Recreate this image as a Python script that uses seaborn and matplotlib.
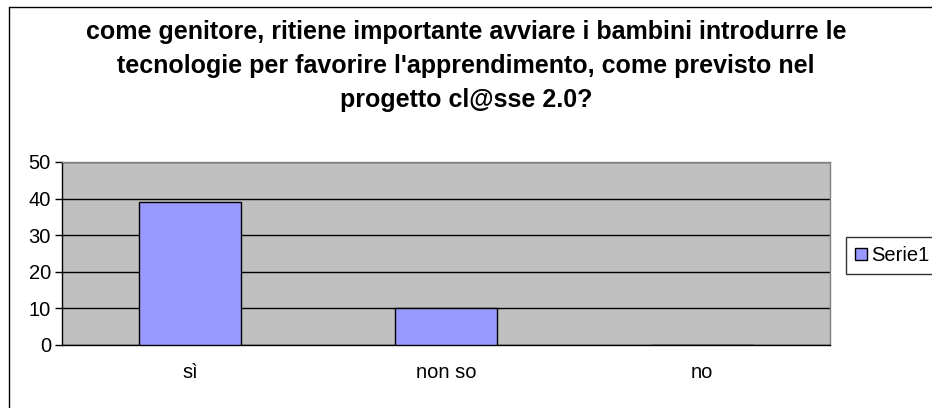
import matplotlib
matplotlib.use("Agg")
import matplotlib.pyplot as plt
import seaborn as sns
import pandas as pd
from matplotlib.lines import Line2D
from matplotlib.patches import Patch

categories = ["sì", "non so", "no"]
values = [39, 10, 0]
series_name = "Serie1"
title = ("come genitore, ritiene importante avviare i bambini introdurre le\n"
         "tecnologie per favorire l'apprendimento, come previsto nel\n"
         "progetto cl@sse 2.0?")

sns.set_style("white")
plt.rcParams['font.family'] = ['Liberation Sans', 'DejaVu Sans']
plt.rcParams['text.color'] = 'black'
plt.rcParams['xtick.color'] = 'black'
plt.rcParams['ytick.color'] = 'black'
plt.rcParams['axes.labelcolor'] = 'black'

df = pd.DataFrame({"cat": categories, "val": values})

fig = plt.figure(figsize=(9.32, 4.08), dpi=100)
ax = fig.add_axes([62/932, 1-345/408, (830-62)/932, (345-162)/408])
ax.set_facecolor("#C0C0C0")

sns.barplot(data=df, x="cat", y="val", ax=ax, color="#9999FF", width=0.4,
            edgecolor="black", linewidth=1, saturation=1, zorder=3)

ax.set_ylim(0, 50)
ax.set_yticks([0, 10, 20, 30, 40, 50])
ax.yaxis.grid(True, color="black", linewidth=1, zorder=1)
ax.set_axisbelow(True)
ax.set_xlim(-0.5, 2.5)
ax.set_xlabel("")
ax.set_ylabel("")

for s in ["top", "right"]:
    ax.spines[s].set_color("#808080")
    ax.spines[s].set_linewidth(1)
ax.spines["left"].set_color("black")
ax.spines["bottom"].set_color("black")
ax.spines["left"].set_linewidth(1)
ax.spines["bottom"].set_linewidth(1)

ax.set_xticks([0, 1, 2])
ax.set_xticklabels(categories)
ax.set_xticks([-0.5, 0.5, 1.5, 2.5], minor=True)
ax.tick_params(axis="x", which="major", length=0, pad=13, labelsize=14.5)
ax.tick_params(axis="x", which="minor", length=5, width=1, color="black", direction="out")
ax.tick_params(axis="y", length=5, width=1, color="black", direction="out", labelsize=14.5, pad=3, left=True)

fig.suptitle(title, x=466/932, y=1-20/408, fontsize=18, fontweight="bold", linespacing=1.52, va="top")

handle = Patch(facecolor="#9999FF", edgecolor="black", linewidth=1)
leg = fig.legend([handle], [series_name], loc="upper left",
                 bbox_to_anchor=(846/932, 1-237/408), frameon=True, fontsize=14.5,
                 handlelength=0.6, handleheight=0.6, handletextpad=0.2,
                 borderpad=0.45, fancybox=False, borderaxespad=0)
leg.get_frame().set_edgecolor("black")
leg.get_frame().set_linewidth(1)

fig.add_artist(Line2D([8.5/932, 8.5/932], [0, 1-6.5/408], transform=fig.transFigure, color="black", linewidth=1))
fig.add_artist(Line2D([8.5/932, 1], [1-6.5/408, 1-6.5/408], transform=fig.transFigure, color="black", linewidth=1))

fig.savefig("out.png", dpi=100)
